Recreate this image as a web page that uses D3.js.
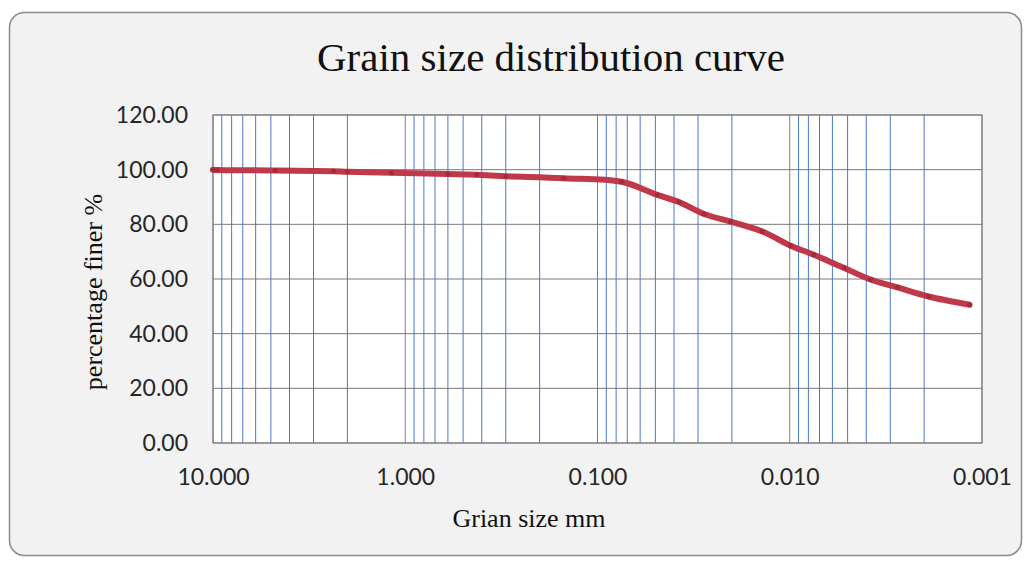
<!DOCTYPE html>
<html>
<head>
<meta charset="utf-8">
<script src="https://cdn.jsdelivr.net/npm/d3@7"></script>
<style>
  body { margin: 0; background: #fff; }
  svg { display: block; }
</style>
</head>
<body>
<div id="chart"></div>
<script>
// grain sizes (mm) and percentage finer
const grainSize = [10, 9.5, 4.75, 2.36, 2.0, 1.18, 0.6, 0.425, 0.3, 0.15, 0.075,
  0.0489, 0.0377, 0.0279, 0.0203, 0.0139, 0.0099, 0.0075, 0.0052, 0.0038, 0.00275, 0.0019, 0.00116];
const percentFiner = [100.0, 99.9, 99.7, 99.4, 99.2, 98.9, 98.4, 98.1, 97.6, 96.9, 95.6,
  90.8, 88.2, 83.8, 81.0, 77.4, 72.2, 68.9, 64.0, 59.8, 56.9, 53.6, 50.6];
const xTicks = [10, 1, 0.1, 0.01, 0.001];
const yTicks = [0, 20, 40, 60, 80, 100, 120];

const W = 1029, H = 561;
const margin = {top: 115, right: 47, bottom: 118, left: 213};
const width = W - margin.left - margin.right,
      height = H - margin.top - margin.bottom;

const svg = d3.select("#chart").append("svg")
  .attr("width", W).attr("height", H);

// chart area box
svg.append("rect")
  .attr("x", 9.5).attr("y", 12.5)
  .attr("width", 1012).attr("height", 543)
  .attr("rx", 15)
  .attr("fill", "#f2f2f2")
  .attr("stroke", "#8a8a8a")
  .attr("stroke-width", 1.5);

const g = svg.append("g")
  .attr("transform", `translate(${margin.left},${margin.top})`);

const x = d3.scaleLog().domain([10, 0.001]).range([0, width]);
const y = d3.scaleLinear().domain([0, 120]).range([height, 0]);

g.append("rect")
  .attr("width", width).attr("height", height)
  .attr("fill", "#fff");

// minor vertical gridlines (2..9 in each decade)
const minor = [];
for (let k = -3; k <= 0; k++) {
  for (let m = 2; m <= 9; m++) minor.push(m * Math.pow(10, k));
}
g.selectAll(".minor").data(minor).join("line")
  .attr("x1", d => x(d)).attr("x2", d => x(d))
  .attr("y1", 0).attr("y2", height)
  .attr("stroke", "#4a78cc").attr("stroke-width", 1);

// major vertical gridlines
g.selectAll(".major").data(xTicks).join("line")
  .attr("x1", d => x(d)).attr("x2", d => x(d))
  .attr("y1", 0).attr("y2", height)
  .attr("stroke", "#7f7f8c").attr("stroke-width", 1);

// horizontal gridlines
g.selectAll(".hgrid").data(yTicks).join("line")
  .attr("x1", 0).attr("x2", width)
  .attr("y1", d => y(d)).attr("y2", d => y(d))
  .attr("stroke", "#7a7a7a").attr("stroke-width", 1);

g.append("rect")
  .attr("width", width).attr("height", height)
  .attr("fill", "none").attr("stroke", "#7a7a7a").attr("stroke-width", 1);

// axes, labels only
const xAxis = g.append("g")
  .attr("transform", `translate(0,${height})`)
  .call(d3.axisBottom(x).tickValues(xTicks).tickFormat(d3.format(".3f")).tickSize(0).tickPadding(26));
const yAxis = g.append("g")
  .call(d3.axisLeft(y).tickValues(yTicks).tickFormat(d3.format(".2f")).tickSize(0).tickPadding(25));
[xAxis, yAxis].forEach(a => {
  a.select(".domain").remove();
  a.selectAll("text")
    .attr("font-family", "Lato, sans-serif")
    .attr("font-size", 23)
    .attr("fill", "#262626");
});

// the curve
const data = grainSize.map((d, i) => ({size: d, finer: percentFiner[i]}));
g.append("path")
  .datum(data)
  .attr("fill", "none")
  .attr("stroke", "#c0394a")
  .attr("stroke-width", 6)
  .attr("stroke-linejoin", "round")
  .attr("stroke-linecap", "round")
  .attr("d", d3.line()
    .x(d => x(d.size))
    .y(d => y(d.finer))
    .curve(d3.curveCatmullRom.alpha(0.5)));

g.selectAll(".pt").data(data).join("circle")
  .attr("cx", d => x(d.size)).attr("cy", d => y(d.finer))
  .attr("r", 2.5)
  .attr("fill", "#a02e3a");

// titles
svg.append("text")
  .attr("x", 551).attr("y", 71)
  .attr("text-anchor", "middle")
  .attr("font-family", "'Liberation Serif', 'Times New Roman', serif")
  .attr("font-size", 41)
  .attr("fill", "#111")
  .text("Grain size distribution curve");

svg.append("text")
  .attr("x", 529).attr("y", 527)
  .attr("text-anchor", "middle")
  .attr("font-family", "'Liberation Serif', 'Times New Roman', serif")
  .attr("font-size", 26)
  .attr("fill", "#111")
  .text("Grian size mm");

svg.append("text")
  .attr("transform", "translate(102,292) rotate(-90)")
  .attr("text-anchor", "middle")
  .attr("font-family", "'Liberation Serif', 'Times New Roman', serif")
  .attr("font-size", 26)
  .attr("fill", "#111")
  .text("percentage finer %");
</script>
</body>
</html>
